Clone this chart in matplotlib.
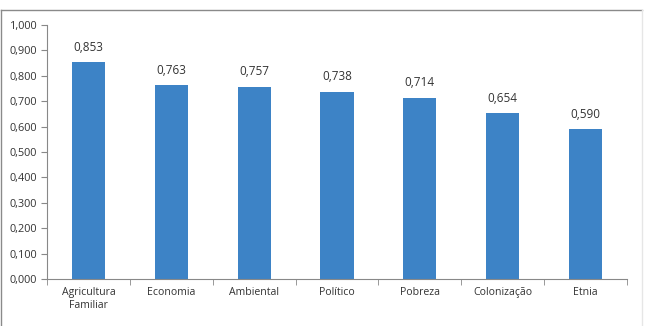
import matplotlib
matplotlib.use("Agg")
import matplotlib.pyplot as plt
from matplotlib.lines import Line2D

categories = ["Agricultura\nFamiliar", "Economia", "Ambiental", "Político", "Pobreza", "Colonização", "Etnia"]
values = [0.853, 0.763, 0.757, 0.738, 0.714, 0.654, 0.590]
yticks = [0.0, 0.1, 0.2, 0.3, 0.4, 0.5, 0.6, 0.7, 0.8, 0.9, 1.0]

plt.rcParams['font.family'] = ['Open Sans', 'DejaVu Sans']

W, H = 647, 326
fig = plt.figure(figsize=(W/100, H/100), dpi=100)
fig.patch.set_facecolor('white')

ax = fig.add_axes([47/W, 1 - 279/H, (627-47)/W, (279-25)/H])
x = list(range(len(categories)))
ax.bar(x, values, width=0.4, color='#3d83c6', zorder=2)
ax.set_xlim(-0.5, len(categories) - 0.5)
ax.set_ylim(0, 1.0)

fmt = lambda v: f"{v:.3f}".replace('.', ',')
for xi, v in zip(x, values):
    ax.annotate(fmt(v), (xi, v), xytext=(0, 6), textcoords='offset points',
                ha='center', va='bottom', fontsize=8.5, color='#333333')

ax.set_yticks(yticks)
ax.set_yticklabels([fmt(t) for t in yticks], fontsize=7.8, color='#333333')
ax.set_xticks(x)
ax.set_xticklabels(categories, fontsize=7.6, color='#333333', linespacing=1.25)
ax.set_xticks([i - 0.5 for i in range(len(categories) + 1)], minor=True)
ax.tick_params(axis='x', which='major', length=0, pad=6)
ax.tick_params(axis='x', which='minor', length=4, color='#888888', direction='out')
ax.tick_params(axis='y', length=4, color='#888888', pad=3)
for s in ['top', 'right']:
    ax.spines[s].set_visible(False)
for s in ['left', 'bottom']:
    ax.spines[s].set_color('#888888')
    ax.spines[s].set_linewidth(0.8)

# chart frame
fig.add_artist(Line2D([0.8/W, 0.8/W], [0, 1 - 10/H], transform=fig.transFigure, color='#8a8a8a', lw=1))
fig.add_artist(Line2D([0.8/W, 642/W], [1 - 10/H, 1 - 10/H], transform=fig.transFigure, color='#8a8a8a', lw=1))
fig.add_artist(Line2D([642/W, 642/W], [0, 1 - 10/H], transform=fig.transFigure, color='#e6e6e6', lw=1))

fig.savefig("out.png", dpi=100)
